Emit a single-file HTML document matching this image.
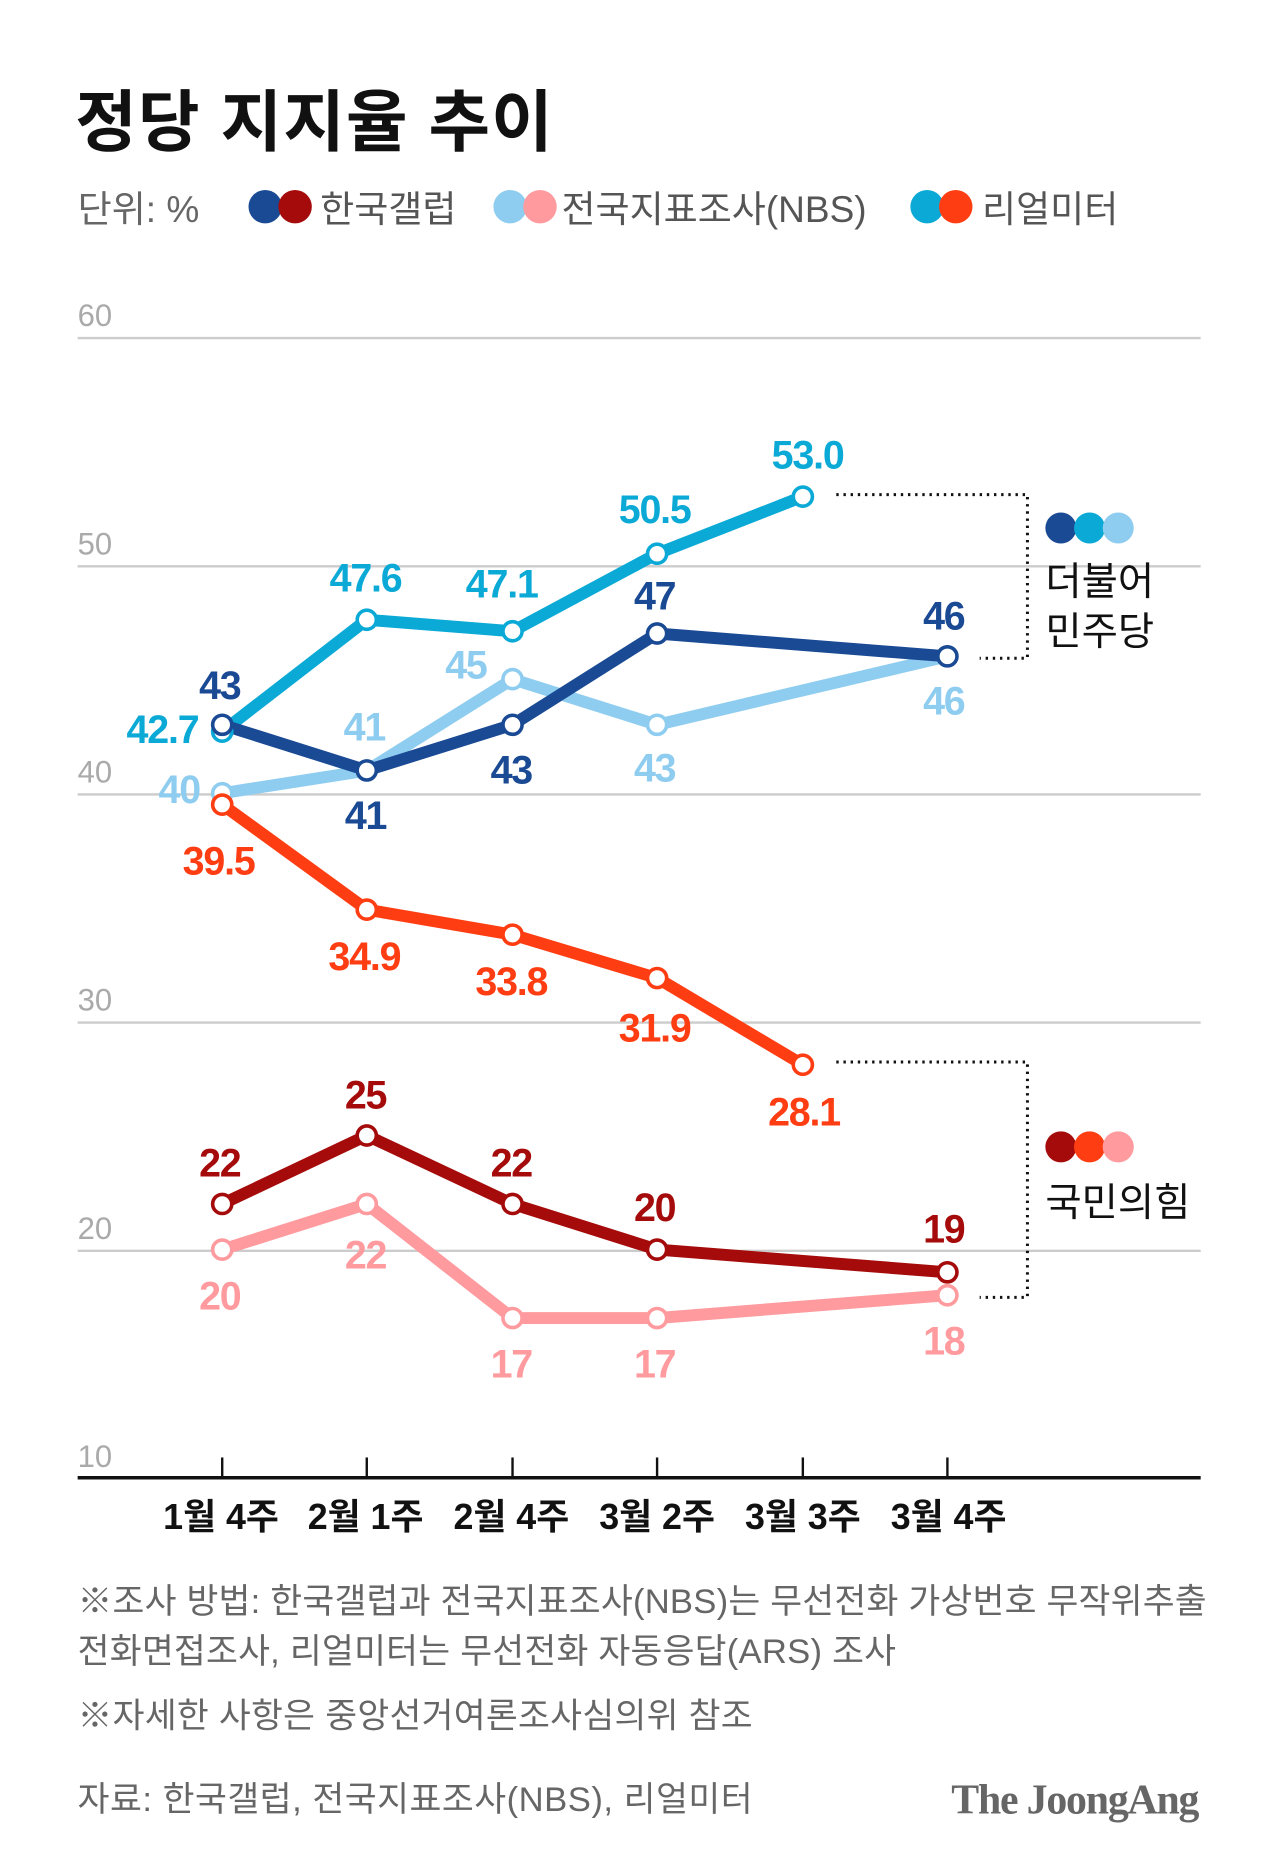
<!DOCTYPE html>
<html><head><meta charset="utf-8"><style>
html,body{margin:0;padding:0;background:#fff;}
svg{display:block;}
text{font-family:"Liberation Sans","Noto Sans CJK KR",sans-serif;}
</style></head><body>
<svg width="1280" height="1872" viewBox="0 0 1071.4 1567" preserveAspectRatio="none" xmlns="http://www.w3.org/2000/svg">
<rect width="1080" height="1580" fill="#fff"/>
<text x="63" y="122" font-size="56" font-weight="bold" fill="#111" letter-spacing="1">정당 지지율 추이</text>
<text x="65" y="186" font-size="31" fill="#666">단위: %</text>
<circle cx="222" cy="173" r="14" fill="#1a4a94"/><circle cx="247" cy="173" r="14" fill="#a50b0b"/>
<text x="268" y="186" font-size="31" fill="#555">한국갤럽</text>
<circle cx="427" cy="173" r="14" fill="#8fcdf0"/><circle cx="452" cy="173" r="14" fill="#ff9a9e"/>
<text x="470" y="186" font-size="31" fill="#555">전국지표조사(NBS)</text>
<circle cx="776" cy="173" r="14" fill="#0aa9d6"/><circle cx="800" cy="173" r="14" fill="#ff3d12"/>
<text x="822" y="186" font-size="31" fill="#555">리얼미터</text>

<g stroke="#ccc" stroke-width="2">
<line x1="65" y1="283" x2="1005" y2="283"/><line x1="65" y1="474" x2="1005" y2="474"/>
<line x1="65" y1="665" x2="1005" y2="665"/><line x1="65" y1="856" x2="1005" y2="856"/>
<line x1="65" y1="1047" x2="1005" y2="1047"/>
</g>
<g font-size="26" fill="#aaa">
<text x="65" y="273">60</text><text x="65" y="464">50</text><text x="65" y="655">40</text>
<text x="65" y="846">30</text><text x="65" y="1037">20</text><text x="65" y="1228">10</text>
</g>
<line x1="65" y1="1237" x2="1005" y2="1237" stroke="#111" stroke-width="3"/>
<g stroke="#111" stroke-width="2">
<line x1="186" y1="1220" x2="186" y2="1237"/><line x1="307" y1="1220" x2="307" y2="1237"/>
<line x1="429" y1="1220" x2="429" y2="1237"/><line x1="550" y1="1220" x2="550" y2="1237"/>
<line x1="672" y1="1220" x2="672" y2="1237"/><line x1="793" y1="1220" x2="793" y2="1237"/>
</g>
<g font-size="30" font-weight="bold" fill="#111" text-anchor="middle">
<text x="185" y="1280">1월 4주</text><text x="306" y="1280">2월 1주</text><text x="428" y="1280">2월 4주</text>
<text x="550" y="1280">3월 2주</text><text x="672" y="1280">3월 3주</text><text x="794" y="1280">3월 4주</text>
</g>

<g fill="none" stroke-width="10" stroke-linejoin="round">
<polyline stroke="#8fcdf0" points="186,664 307,645 429,568.5 550,606.7 793,549.4"/>
<polyline stroke="#ff9a9e" points="186,1046 307,1007.8 429,1103.3 550,1103.3 793,1084.2"/>
<polyline stroke="#0aa9d6" points="186,612.4 307,518.8 429,528.4 550,463.5 672,415.7"/>
<polyline stroke="#1a4a94" points="186,606.7 307,644.9 429,606.7 550,530.3 793,549.4"/>
<polyline stroke="#ff3d12" points="186,673.5 307,761.4 429,782.4 550,818.7 672,891.3"/>
<polyline stroke="#a50b0b" points="186,1007.8 307,950.5 429,1007.8 550,1046 793,1065"/>
</g>
<g fill="#fff" stroke-width="3">
<g stroke="#8fcdf0"><circle cx="186" cy="664" r="8"/><circle cx="429" cy="568.5" r="8"/><circle cx="550" cy="606.7" r="8"/></g>
<g stroke="#ff9a9e"><circle cx="186" cy="1046" r="8"/><circle cx="307" cy="1007.8" r="8"/><circle cx="429" cy="1103.3" r="8"/><circle cx="550" cy="1103.3" r="8"/><circle cx="793" cy="1084.2" r="8"/></g>
<g stroke="#0aa9d6"><circle cx="186" cy="612.4" r="8"/><circle cx="307" cy="518.8" r="8"/><circle cx="429" cy="528.4" r="8"/><circle cx="550" cy="463.5" r="8"/><circle cx="672" cy="415.7" r="8"/></g>
<g stroke="#1a4a94"><circle cx="186" cy="606.7" r="8"/><circle cx="307" cy="644.9" r="8"/><circle cx="429" cy="606.7" r="8"/><circle cx="550" cy="530.3" r="8"/><circle cx="793" cy="549.4" r="8"/></g>
<g stroke="#ff3d12"><circle cx="186" cy="673.5" r="8"/><circle cx="307" cy="761.4" r="8"/><circle cx="429" cy="782.4" r="8"/><circle cx="550" cy="818.7" r="8"/><circle cx="672" cy="891.3" r="8"/></g>
<g stroke="#a50b0b"><circle cx="186" cy="1007.8" r="8"/><circle cx="307" cy="950.5" r="8"/><circle cx="429" cy="1007.8" r="8"/><circle cx="550" cy="1046" r="8"/><circle cx="793" cy="1065" r="8"/></g>
</g>

<g font-size="33" font-weight="bold" text-anchor="middle" letter-spacing="-1">
<g fill="#0aa9d6"><text x="136" y="622">42.7</text><text x="306" y="495">47.6</text><text x="420" y="500">47.1</text><text x="548" y="438">50.5</text><text x="676" y="392">53.0</text></g>
<g fill="#1a4a94"><text x="184" y="585">43</text><text x="306" y="694">41</text><text x="428" y="656">43</text><text x="548" y="510">47</text><text x="790" y="527">46</text></g>
<g fill="#8fcdf0"><text x="150" y="672">40</text><text x="305" y="620">41</text><text x="390" y="568">45</text><text x="548" y="654">43</text><text x="790" y="598">46</text></g>
<g fill="#ff3d12"><text x="183" y="732">39.5</text><text x="305" y="812">34.9</text><text x="428" y="833">33.8</text><text x="548" y="872">31.9</text><text x="673" y="942">28.1</text></g>
<g fill="#a50b0b"><text x="184" y="985">22</text><text x="306" y="928">25</text><text x="428" y="985">22</text><text x="548" y="1022">20</text><text x="790" y="1040">19</text></g>
<g fill="#ff9a9e"><text x="184" y="1096">20</text><text x="306" y="1062">22</text><text x="428" y="1153">17</text><text x="548" y="1153">17</text><text x="790" y="1134">18</text></g>
</g>

<g fill="none" stroke="#111" stroke-width="2.5" stroke-dasharray="2,4">
<polyline points="700,414 860,414 860,551 820,551"/>
<polyline points="700,889 860,889 860,1086 820,1086"/>
</g>
<circle cx="888" cy="442" r="13" fill="#1a4a94"/><circle cx="912" cy="442" r="13" fill="#0aa9d6"/><circle cx="936" cy="442" r="13" fill="#8fcdf0"/>
<text x="875" y="498" font-size="33" fill="#111">더불어</text>
<text x="875" y="540" font-size="33" fill="#111">민주당</text>
<circle cx="888" cy="960" r="13" fill="#a50b0b"/><circle cx="912" cy="960" r="13" fill="#ff3d12"/><circle cx="936" cy="960" r="13" fill="#ff9a9e"/>
<text x="875" y="1018" font-size="33" fill="#111">국민의힘</text>

<g font-size="29" fill="#666">
<text x="65" y="1350" textLength="945">※조사 방법: 한국갤럽과 전국지표조사(NBS)는 무선전화 가상번호 무작위추출</text>
<text x="65" y="1392" textLength="685">전화면접조사, 리얼미터는 무선전화 자동응답(ARS) 조사</text>
<text x="65" y="1446" textLength="565">※자세한 사항은 중앙선거여론조사심의위 참조</text>
<text x="65" y="1516" textLength="565">자료: 한국갤럽, 전국지표조사(NBS), 리얼미터</text>
</g>
<text x="1003" y="1518" font-size="35" font-weight="bold" fill="#666" text-anchor="end" style="font-family:'Liberation Serif',serif" letter-spacing="-1">The JoongAng</text>
</svg>
</body></html>
